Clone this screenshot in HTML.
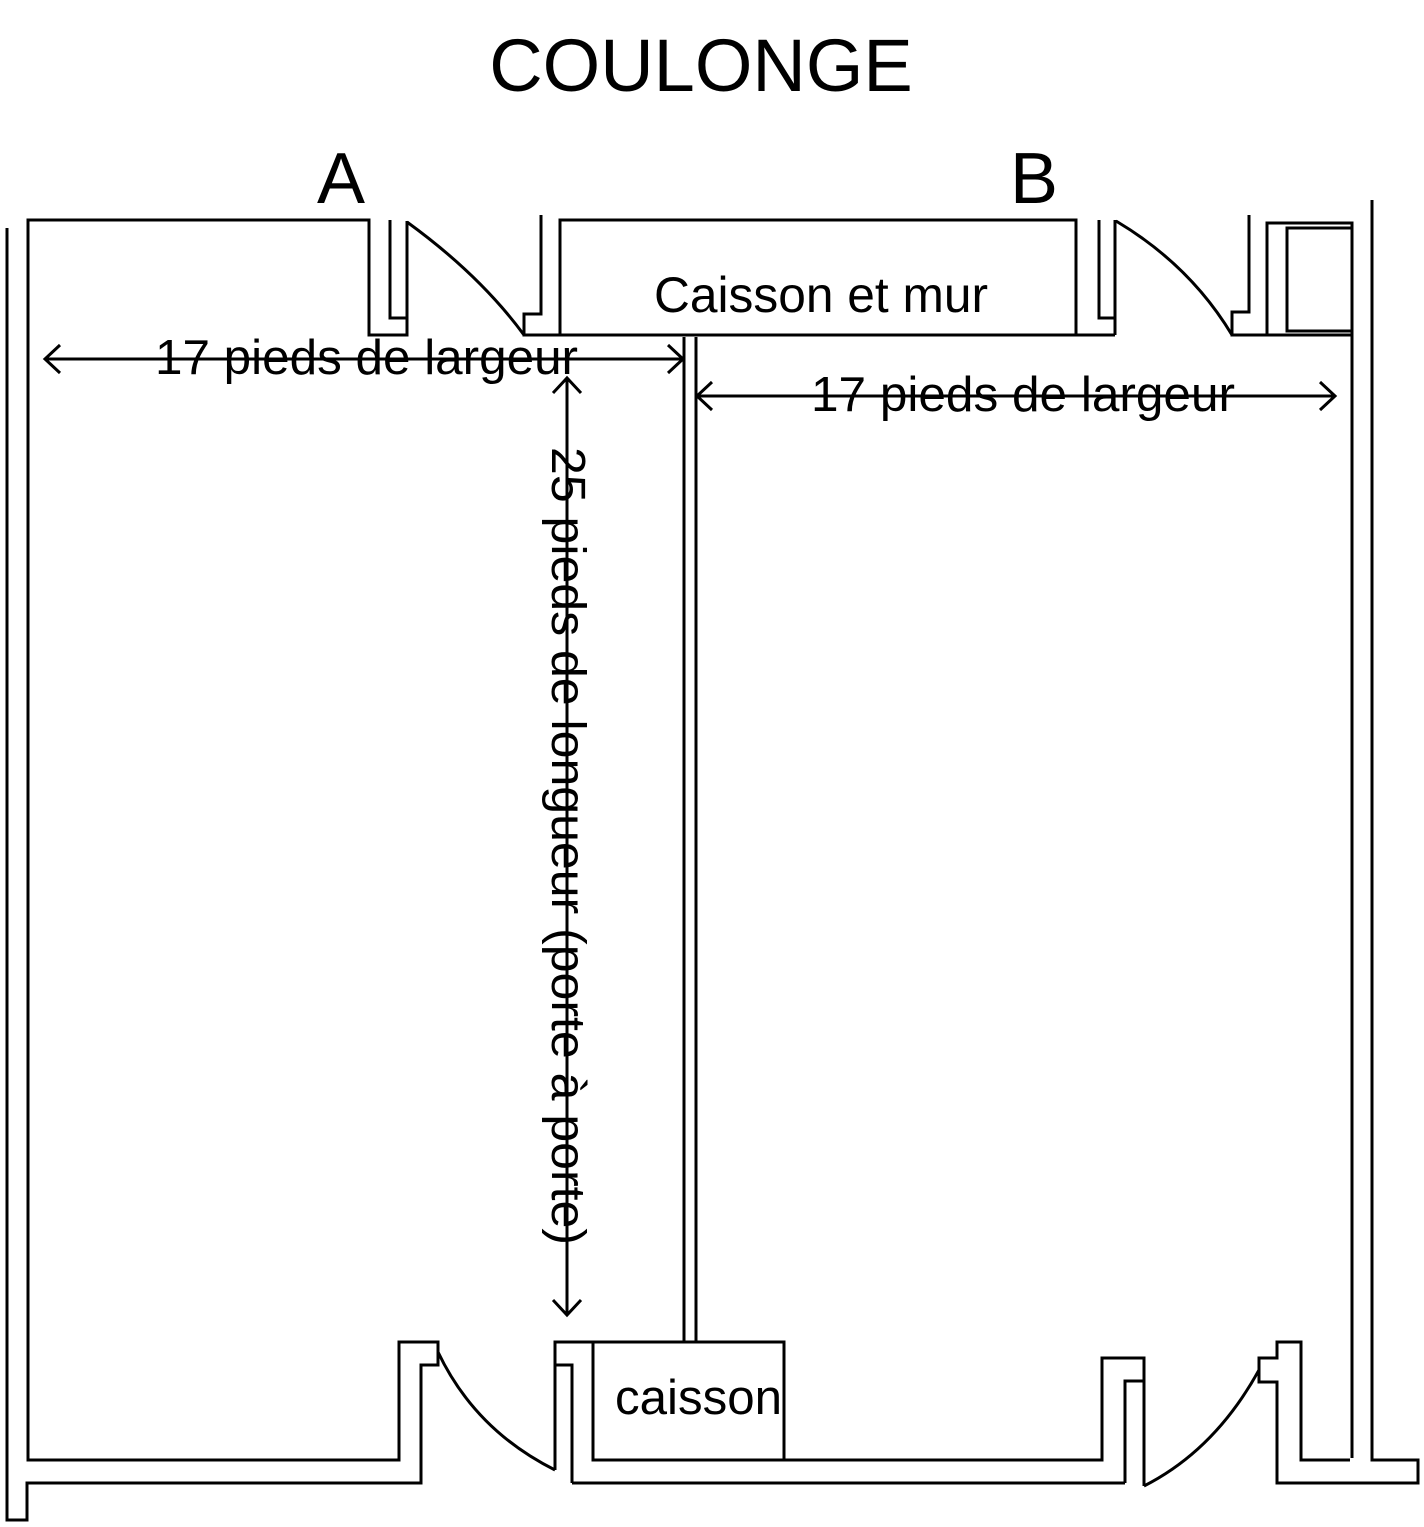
<!DOCTYPE html>
<html><head><meta charset="utf-8"><style>html,body{margin:0;padding:0;background:#fff}svg{display:block}</style></head>
<body>
<svg width="1424" height="1527" viewBox="0 0 1424 1527" xmlns="http://www.w3.org/2000/svg" font-family="Liberation Sans, Arial, sans-serif">
<g fill="none" stroke="#000" stroke-width="3">
<polyline points="7,228 7,1520 27,1520 27,1483 421,1483 421,1365 438,1365 438,1342 399,1342 399,1460 28,1460 28,220 369,220 369,335 407,335 407,221"/>
<polyline points="390,220 390,318 407,318"/>
<path d="M407,222 Q480,275 524,335"/>
<polyline points="541,215 541,314 524,314 524,335 1115,335"/>
<polyline points="560,335 560,220 1076,220 1076,335"/>
<polyline points="1099,220 1099,318 1115,318"/>
<line x1="1115" y1="220" x2="1115" y2="335"/>
<path d="M1116,221 Q1190,265 1232,335"/>
<polyline points="1249,215 1249,312 1232,312 1232,335 1352,335"/>
<polyline points="1267,335 1267,223 1352,223 1352,1458"/>
<rect x="1287" y="228" width="65" height="103"/>
<polyline points="1372,200 1372,1460 1418,1460 1418,1483 1277,1483 1277,1382 1259,1382 1259,1358 1277,1358 1277,1342 1301,1342 1301,1460 1350,1460"/>
<path d="M1259,1370 Q1215,1450 1144,1486"/>
<polyline points="1144,1486 1144,1358 1102,1358 1102,1460 593,1460 593,1342"/>
<polyline points="1125,1483 1125,1381 1143,1381"/>
<polyline points="572,1483 1125,1483"/>
<polyline points="572,1483 572,1365 555,1365"/>
<polyline points="555,1470 555,1342 784,1342 784,1460"/>
<path d="M438,1352 Q475,1430 555,1470"/>
<line x1="684" y1="337" x2="684" y2="1342"/>
<line x1="696" y1="337" x2="696" y2="1342"/>
<line x1="45" y1="359" x2="683" y2="359"/>
<polyline points="60,345 45,359 60,373"/>
<polyline points="668,345 683,359 668,373"/>
<line x1="697" y1="396" x2="1335" y2="396"/>
<polyline points="712,382 697,396 712,410"/>
<polyline points="1320,382 1335,396 1320,410"/>
<line x1="567" y1="378" x2="567" y2="1315"/>
<polyline points="553,393 567,378 581,393"/>
<polyline points="553,1300 567,1315 581,1300"/>
</g>
<g fill="#000">
<text x="701" y="91" font-size="74" text-anchor="middle">COULONGE</text>
<text x="341" y="203" font-size="72" text-anchor="middle">A</text>
<text x="1034" y="203" font-size="72" text-anchor="middle">B</text>
<text x="654" y="312" font-size="50" textLength="334" lengthAdjust="spacingAndGlyphs">Caisson et mur</text>
<text x="155" y="374" font-size="49" textLength="423" lengthAdjust="spacingAndGlyphs">17 pieds de largeur</text>
<text x="811" y="411" font-size="49" textLength="424" lengthAdjust="spacingAndGlyphs">17 pieds de largeur</text>
<text x="615" y="1414" font-size="49" textLength="167" lengthAdjust="spacingAndGlyphs">caisson</text>
<text transform="translate(552,447) rotate(90)" font-size="48" textLength="798" lengthAdjust="spacingAndGlyphs">25 pieds de longueur (porte à porte)</text>
</g>
</svg>
</body></html>
